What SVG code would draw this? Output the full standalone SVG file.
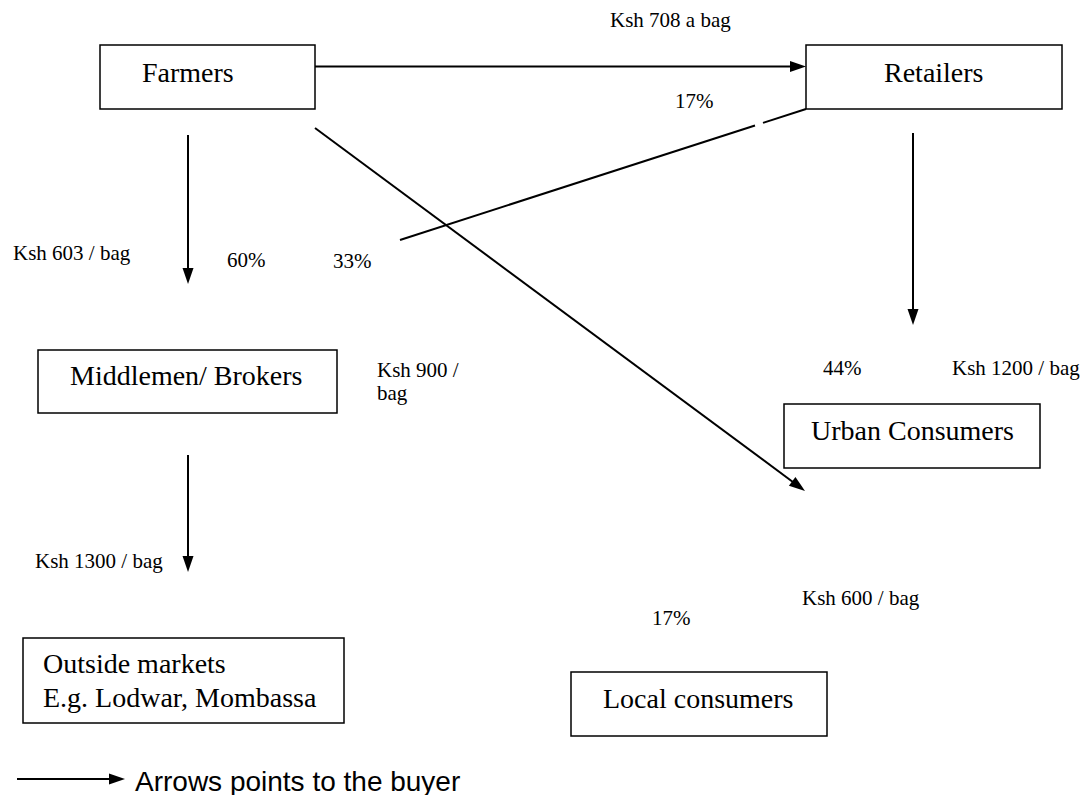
<svg xmlns="http://www.w3.org/2000/svg" width="1083" height="795" viewBox="0 0 1083 795">
<style>
.box{fill:#fff;stroke:#000;stroke-width:1.5}
.big{font-family:"Liberation Serif","Times New Roman",serif;font-size:28px;fill:#000}
.sm{font-family:"Liberation Serif","Times New Roman",serif;font-size:21px;fill:#000}
.leg{font-family:"Liberation Sans",Arial,sans-serif;font-size:28px;fill:#000}
.ln{stroke:#000;stroke-width:2;fill:none}
.arr{marker-end:url(#ah)}
</style>
<defs>
<marker id="ah" markerUnits="userSpaceOnUse" markerWidth="16" markerHeight="11" refX="8" refY="5.5" orient="auto" overflow="visible">
<path d="M0,0 L16,5.5 L0,11 z" fill="#000"/>
</marker>
</defs>
<rect width="1083" height="795" fill="#fff"/>
<g id="connectors">
<line class="ln arr" x1="315" y1="66.5" x2="798" y2="66.5"/>
<line class="ln arr" x1="188" y1="135" x2="188" y2="276"/>
<line class="ln arr" x1="315" y1="128" x2="798.6" y2="486.2"/>
<line class="ln" x1="806" y1="109" x2="763" y2="122.9"/>
<line class="ln" x1="755" y1="125.5" x2="400" y2="240"/>
<line class="ln arr" x1="913" y1="133" x2="913" y2="317"/>
<line class="ln arr" x1="188" y1="455" x2="188" y2="564"/>
</g>
<g id="farmers"><rect class="box" x="100" y="45" width="215" height="64"/><text class="big" x="142" y="82">Farmers</text></g>
<g id="retailers"><rect class="box" x="806" y="45" width="256" height="64"/><text class="big" x="884" y="82">Retailers</text></g>
<g id="middlemen"><rect class="box" x="38" y="350" width="299" height="63"/><text class="big" x="70" y="385">Middlemen/ Brokers</text></g>
<g id="urban"><rect class="box" x="784" y="404" width="256" height="64"/><text class="big" x="811" y="440">Urban Consumers</text></g>
<g id="outside"><rect class="box" x="23" y="638" width="321" height="85"/><text class="big" x="43" y="673">Outside markets</text><text class="big" x="43" y="707">E.g. Lodwar, Mombassa</text></g>
<g id="local"><rect class="box" x="571" y="672" width="256" height="64"/><text class="big" x="603" y="708">Local consumers</text></g>
<g id="labels">
<text class="sm" x="610" y="27">Ksh 708 a bag</text>
<text class="sm" x="675" y="108">17%</text>
<text class="sm" x="13" y="260">Ksh 603 / bag</text>
<text class="sm" x="227" y="267">60%</text>
<text class="sm" x="333" y="268">33%</text>
<text class="sm" x="377" y="377">Ksh 900 /</text>
<text class="sm" x="377" y="400">bag</text>
<text class="sm" x="823" y="375">44%</text>
<text class="sm" x="952" y="375">Ksh 1200 / bag</text>
<text class="sm" x="35" y="568">Ksh 1300 / bag</text>
<text class="sm" x="802" y="605">Ksh 600 / bag</text>
<text class="sm" x="652" y="625">17%</text>
</g>
<g id="legend">
<line class="ln arr" x1="17" y1="779" x2="117" y2="779"/>
<text class="leg" x="135" y="791">Arrows points to the buyer</text>
</g>
</svg>
